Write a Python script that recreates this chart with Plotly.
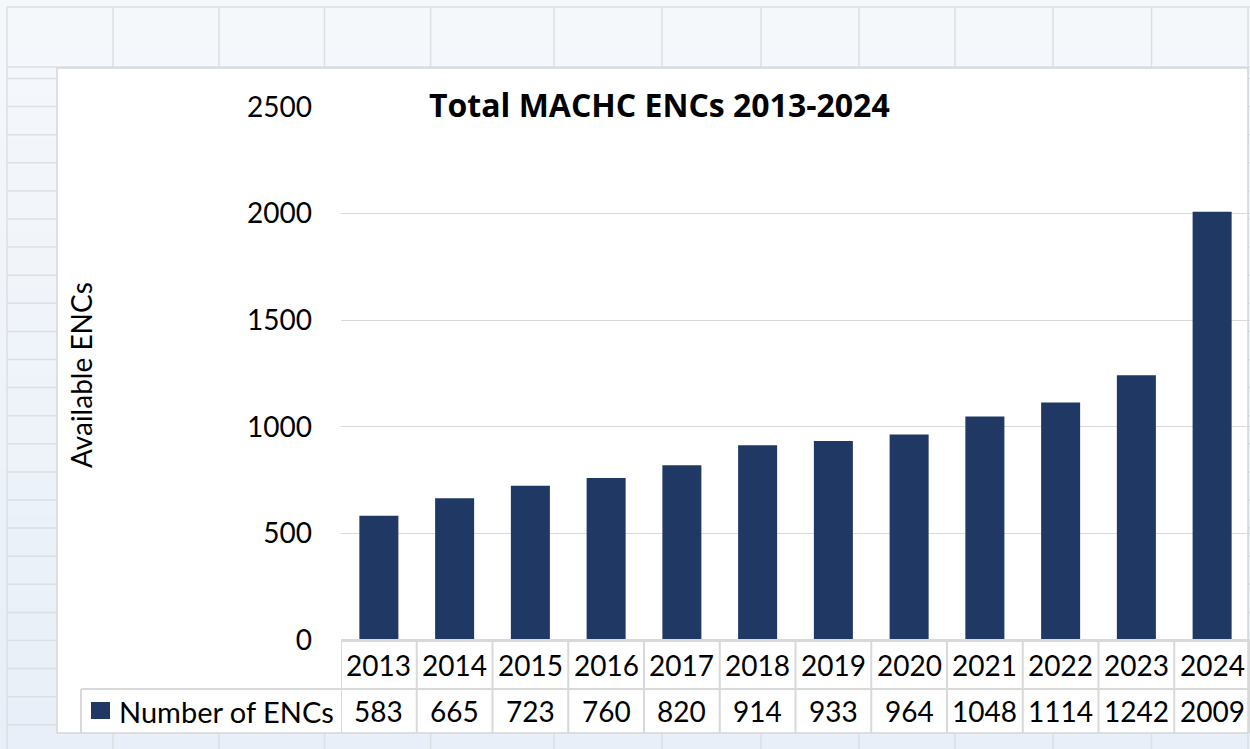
import plotly.graph_objects as go

# ---- data ----
years = ["2013", "2014", "2015", "2016", "2017", "2018",
         "2019", "2020", "2021", "2022", "2023", "2024"]
encs = [583, 665, 723, 760, 820, 914, 933, 964, 1048, 1114, 1242, 2009]
series_name = "Number of ENCs"
chart_title = "Total MACHC ENCs 2013-2024"
y_title = "Available ENCs"
y_ticks = [0, 500, 1000, 1500, 2000, 2500]

# ---- layout geometry (pixels) ----
W, H = 1250, 749
L, T, B, R = 341, 107, 109, 0
PW, PH = W - L - R, H - T - B
FONT = "Lato"
BAR = "#1F3864"
GRID = "#d9d9d9"


def px(x):
    return (x - L) / PW


def py(y):
    return (H - B - y) / PH


shapes = []

# spreadsheet-like background gradient
top_c = (245, 248, 251)
bot_c = (232, 239, 248)
nb = 16
for i in range(nb):
    f = i / (nb - 1)
    c = tuple(round(top_c[k] + (bot_c[k] - top_c[k]) * f) for k in range(3))
    shapes.append(dict(type="rect", xref="paper", yref="paper", layer="below",
                       x0=px(0), x1=px(W), y0=py(i * H / nb), y1=py((i + 1) * H / nb + 1),
                       fillcolor="rgb(%d,%d,%d)" % c, line=dict(width=0)))

# spreadsheet cell lines
cols = [7, 113, 219, 324.5, 430.6, 554, 662, 761, 859, 955, 1053, 1151.5, 1248]
rows = [7, 78.5] + [78.5 + 28.1 * k for k in range(1, 25)]
for cx in cols:
    shapes.append(dict(type="line", xref="paper", yref="paper", layer="below",
                       x0=px(cx), x1=px(cx), y0=py(7), y1=py(H),
                       line=dict(color="#dcdfe3", width=1.5)))
for ry in rows:
    shapes.append(dict(type="line", xref="paper", yref="paper", layer="below",
                       x0=px(7), x1=px(W), y0=py(ry), y1=py(ry),
                       line=dict(color="#dcdfe3", width=1.5)))
shapes.append(dict(type="line", xref="paper", yref="paper", layer="below",
                   x0=px(7), x1=px(W), y0=py(67), y1=py(67),
                   line=dict(color="#dcdfe3", width=1.5)))

# chart area
shapes.append(dict(type="rect", xref="paper", yref="paper", layer="below",
                   x0=px(57), x1=px(1248), y0=py(733), y1=py(68),
                   fillcolor="white", line=dict(color="#d6d6d6", width=1.5)))

# data table lines
n = len(years)
for i in range(n + 1):
    shapes.append(dict(type="line", xref="x", yref="paper", layer="above",
                       x0=i - 0.5, x1=i - 0.5, y0=py(733), y1=py(640),
                       line=dict(color=GRID, width=2)))
shapes.append(dict(type="line", xref="paper", yref="paper", layer="above",
                   x0=px(81), x1=px(1250), y0=py(689), y1=py(689),
                   line=dict(color=GRID, width=2)))
shapes.append(dict(type="line", xref="paper", yref="paper", layer="above",
                   x0=px(81), x1=px(81), y0=py(733), y1=py(689),
                   line=dict(color=GRID, width=2)))
shapes.append(dict(type="line", xref="paper", yref="paper", layer="above",
                   x0=px(341), x1=px(1250), y0=py(640.5), y1=py(640.5),
                   line=dict(color=GRID, width=3)))
# legend key
shapes.append(dict(type="rect", xref="paper", yref="paper", layer="above",
                   x0=px(91), x1=px(110), y0=py(719), y1=py(702),
                   fillcolor=BAR, line=dict(width=0)))

annotations = []
for i, (yr, v) in enumerate(zip(years, encs)):
    annotations.append(dict(x=i, xref="x", y=py(665), yref="paper", text=yr,
                            showarrow=False, xanchor="center", yanchor="middle",
                            font=dict(family=FONT, size=28, color="black")))
    annotations.append(dict(x=i, xref="x", y=py(711), yref="paper", text=str(v),
                            showarrow=False, xanchor="center", yanchor="middle",
                            font=dict(family=FONT, size=28, color="black")))
annotations.append(dict(x=px(117), xref="paper", y=py(711), yref="paper", text=series_name,
                        showarrow=False, xanchor="left", yanchor="middle",
                        font=dict(family=FONT, size=29, color="black")))
annotations.append(dict(x=px(81), xref="paper", y=py(375), yref="paper", text=y_title,
                        showarrow=False, xanchor="center", yanchor="middle", textangle=-90,
                        font=dict(family=FONT, size=28, color="black")))
annotations.append(dict(x=px(659), xref="paper", y=py(104), yref="paper",
                        text="<b>" + chart_title + "</b>",
                        showarrow=False, xanchor="center", yanchor="middle",
                        font=dict(family="Open Sans", size=32, color="black")))

fig = go.Figure(go.Bar(x=list(range(n)), y=encs, name=series_name, marker_color=BAR,
                       marker_line_width=0, showlegend=False,
                       customdata=years, hovertemplate="%{customdata}: %{y}<extra></extra>"))

fig.update_layout(
    width=W, height=H,
    margin=dict(l=L, r=R, t=T, b=B, pad=0),
    paper_bgcolor="rgb(245,248,251)",
    plot_bgcolor="rgba(0,0,0,0)",
    bargap=0.485,
    shapes=shapes,
    annotations=annotations,
    font=dict(family=FONT, color="black"),
    xaxis=dict(range=[-0.5, n - 0.5], showticklabels=False,
               showgrid=False, zeroline=False, showline=False, fixedrange=True),
    yaxis=dict(range=[0, 2500], tickvals=y_ticks, showgrid=True, gridcolor=GRID,
               gridwidth=1, zeroline=False, showline=False, ticks="",
               ticklabelstandoff=28,
               tickfont=dict(family=FONT, size=28, color="black")),
)

fig.write_html("out.html", config={"displayModeBar": False},
               post_script="document.body.style.margin='0px';"
                           "document.body.style.overflow='hidden';")
